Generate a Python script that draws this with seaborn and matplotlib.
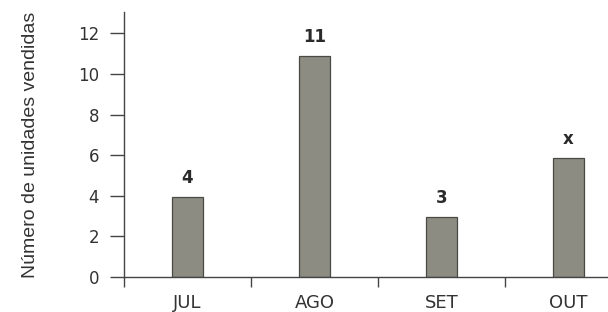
import matplotlib
matplotlib.use("Agg")
import matplotlib.pyplot as plt
import seaborn as sns
import pandas as pd
from matplotlib.ticker import FixedLocator

months = ["JUL", "AGO", "SET", "OUT"]
values = [3.95, 10.9, 2.95, 5.85]
labels = ["4", "11", "3", "x"]
yticks = [0, 2, 4, 6, 8, 10, 12]

sns.set_style("white")
plt.rcParams['font.family'] = ['DejaVu Sans']

df = pd.DataFrame({"mes": months, "valor": values})

fig = plt.figure(figsize=(6.08, 3.12), dpi=100)
ax = fig.add_axes([124/608, 1 - 277/312, 1 - 124/608, (277 - 12)/312])
sns.barplot(data=df, x="mes", y="valor", ax=ax, color="#8c8c83", width=0.245,
            edgecolor="#4a4a44", linewidth=0.9, saturation=1)

for i, (v, lab) in enumerate(zip(values, labels)):
    ax.text(i, v + 0.5, lab, ha="center", va="bottom", fontsize=12, fontweight="bold",
            color="#2a2a2a")

ax.set_xlim(-0.5, 3.31)
ax.set_ylim(0, 13.05)
ax.set_yticks(yticks)
ax.set_yticklabels([str(t) for t in yticks], fontsize=12, color="#333333")
ax.set_xticks(range(len(months)))
ax.set_xticklabels(months, fontsize=13, color="#333333")
ax.xaxis.set_minor_locator(FixedLocator([-0.5, 0.5, 1.5, 2.5]))
ax.tick_params(axis="x", which="major", length=0, pad=12)
ax.tick_params(axis="x", which="minor", length=7, width=1, color="#444444", direction="out", bottom=True)
ax.tick_params(axis="y", which="major", length=10, width=1, color="#444444", direction="out", left=True, pad=8)

ax.set_xlabel("")
ax.set_ylabel("Número de unidades vendidas", fontsize=14, color="#333333", labelpad=28,
              family=['Liberation Sans', 'DejaVu Sans'])

for s in ["top", "right"]:
    ax.spines[s].set_visible(False)
for s in ["left", "bottom"]:
    ax.spines[s].set_color("#444444")
    ax.spines[s].set_linewidth(1)

fig.savefig("out.png", dpi=100, facecolor="white")
